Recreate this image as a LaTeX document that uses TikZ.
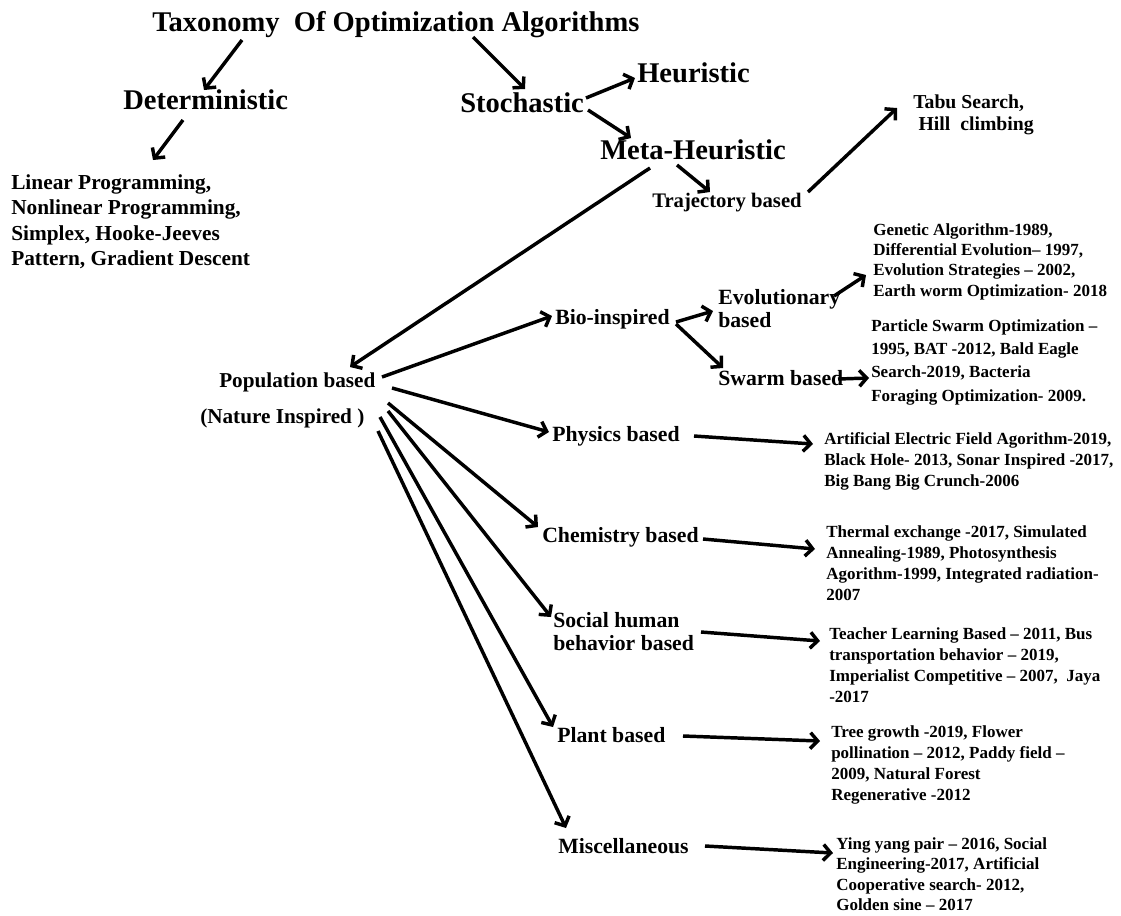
\documentclass[tikz,border=0pt]{standalone}
\usepackage{fontspec}
\setmainfont{Liberation Serif}[BoldFont={Liberation Serif Bold}]
\usetikzlibrary{arrows.meta,calc}

\begin{document}
\begin{tikzpicture}[x=0.75pt,y=-0.75pt,
  lbl/.style={inner sep=0pt, anchor=base west, font=\bfseries\fontsize{16.3}{19.5}\selectfont},
  big/.style={inner sep=0pt, anchor=base west, font=\bfseries\fontsize{21.4}{25}\selectfont},
  mlbl/.style={inner sep=0pt, anchor=north west, align=left, font=\bfseries\fontsize{16.3}{17.3}\selectfont},
  lst/.style={inner sep=0pt, anchor=north west, align=left, font=\bfseries\fontsize{12.75}{15.75}\selectfont},
  arr/.style={line width=2.6pt, -{Straight Barb[length=5.5pt,width=12pt,line width=2.6pt]}}]

% canvas
\fill[white] (0,0) rectangle (1121,915);
\useasboundingbox (0,0) rectangle (1121,915);

% top levels
\node[big] (title) at (152,31) {Taxonomy\ \ Of Optimization Algorithms};
\node[big] (det)   at (123,109) {Deterministic};
\node[big] (stoch) at (460,112) {Stochastic};
\node[big] (heur)  at (637,82) {Heuristic};
\node[big] (meta)  at (600,159) {Meta-Heuristic};

\node[lst, font=\bfseries\fontsize{16}{19.1}\selectfont] (detlist) at (11,174)
  {Linear Programming,\\Nonlinear Programming,\\Simplex, Hooke-Jeeves\\Pattern, Gradient Descent};

\node[lbl, font=\bfseries\fontsize{15.5}{18}\selectfont] (traj) at (652,207) {Trajectory based};
\node[lst, font=\bfseries\fontsize{14.8}{16.5}\selectfont] (tabu) at (913,95)
  {Tabu Search,\\\hspace{4pt}Hill\ \ climbing};

% population branch
\node[lbl, font=\bfseries\fontsize{15.9}{19}\selectfont] (pop) at (219,387) {Population based};
\node[lbl, font=\bfseries\fontsize{15.9}{19}\selectfont] (nat) at (200,423) {(Nature Inspired )};

\node[lbl]  (bio)   at (555,324) {Bio-inspired};
\node[mlbl] (evo)   at (718,289) {Evolutionary\\based};
\node[lbl]  (swarm) at (718,385) {Swarm based};
\node[lbl]  (phys)  at (552,441) {Physics based};
\node[lbl]  (chem)  at (542,542) {Chemistry based};
\node[mlbl] (social) at (553,612) {Social human\\behavior based};
\node[lbl]  (plant) at (557,742) {Plant based};
\node[lbl]  (misc)  at (558,853) {Miscellaneous};

% algorithm lists
\node[lst, font=\bfseries\fontsize{12.75}{15.3}\selectfont] (genetic) at (873,223)
  {Genetic Algorithm-1989,\\Differential Evolution– 1997,\\Evolution Strategies – 2002,\\Earth worm Optimization- 2018};
\node[lst, font=\bfseries\fontsize{12.75}{17.5}\selectfont] (particle) at (871,319)
  {Particle Swarm Optimization –\\1995, BAT -2012, Bald Eagle\\Search-2019, Bacteria\\Foraging Optimization- 2009.};
\node[lst] (artif) at (824,432)
  {Artificial Electric Field Agorithm-2019,\\Black Hole- 2013, Sonar Inspired -2017,\\Big Bang Big Crunch-2006};
\node[lst] (thermal) at (826,525)
  {Thermal exchange -2017, Simulated\\Annealing-1989, Photosynthesis\\Agorithm-1999, Integrated radiation-\\2007};
\node[lst] (teacher) at (829,627)
  {Teacher Learning Based – 2011, Bus\\transportation behavior – 2019,\\Imperialist Competitive – 2007,\ \ Jaya\\-2017};
\node[lst] (tree) at (831,725)
  {Tree growth -2019, Flower\\pollination – 2012, Paddy field –\\2009, Natural Forest\\Regenerative -2012};
\node[lst, font=\bfseries\fontsize{12.75}{15.4}\selectfont] (ying) at (836,837)
  {Ying yang pair – 2016, Social\\Engineering-2017, Artificial\\Cooperative search- 2012,\\Golden sine – 2017};

% connectors
\draw[arr] ($(title.base west)+(90,9)$)   -- ($(det.base west)+(81,-19)$);
\draw[arr] ($(det.base west)+(60,11)$)    -- ($(detlist.north west)+(142,-14)$);
\draw[arr] ($(title.base west)+(321,6)$)  -- ($(stoch.base west)+(65,-23)$);
\draw[arr] ($(stoch.base west)+(126,-14)$) -- ($(heur.base west)+(-2,-4)$);
\draw[arr] ($(stoch.base west)+(128,-2)$) -- ($(meta.base west)+(31,-21)$);
\draw[arr] ($(meta.base west)+(77,6)$)    -- ($(traj.base west)+(58,-15)$);
\draw[arr] ($(traj.base west)+(156,-15)$) -- ($(tabu.north west)+(-16,13)$);
\draw[arr] ($(meta.base west)+(50,9)$)    -- ($(pop.base west)+(131,-20)$);

\draw[arr] ($(pop.base west)+(163,-10)$)  -- ($(bio.base west)+(-3,-8)$);
\draw[arr] ($(bio.base west)+(121,-2)$)   -- ($(evo.north west)+(-5,22)$);
\draw[arr] ($(bio.base west)+(121,0)$)    -- ($(swarm.base west)+(5,-17)$);
\draw[arr] ($(evo.north west)+(116,7)$)   -- ($(genetic.north west)+(-7,52)$);
\draw[arr] ($(swarm.base west)+(120,-6)$) -- ($(particle.north west)+(-2,59)$);

\draw[arr] ($(pop.base west)+(173,1)$)    -- ($(phys.base west)+(-3,-9)$);
\draw[arr] ($(phys.base west)+(142,-5)$)  -- ($(artif.north west)+(-11,12)$);
\draw[arr] ($(nat.base west)+(188,-20)$)  -- ($(chem.base west)+(-4,-15)$);
\draw[arr] ($(chem.base west)+(161,-3)$)  -- ($(thermal.north west)+(-11,24)$);
\draw[arr] ($(nat.base west)+(188,-12)$)  -- ($(social.north west)+(-2,5)$);
\draw[arr] ($(social.north west)+(148,20)$) -- ($(teacher.north west)+(-9,14)$);
\draw[arr] ($(nat.base west)+(180,-6)$)   -- ($(plant.base west)+(-4,-15)$);
\draw[arr] ($(plant.base west)+(126,-6)$) -- ($(tree.north west)+(-11,16)$);
\draw[arr] ($(nat.base west)+(178,8)$)    -- ($(misc.base west)+(8,-25)$);
\draw[arr] ($(misc.base west)+(147,-7)$)  -- ($(ying.north west)+(-3,16)$);
\end{tikzpicture}
\end{document}
